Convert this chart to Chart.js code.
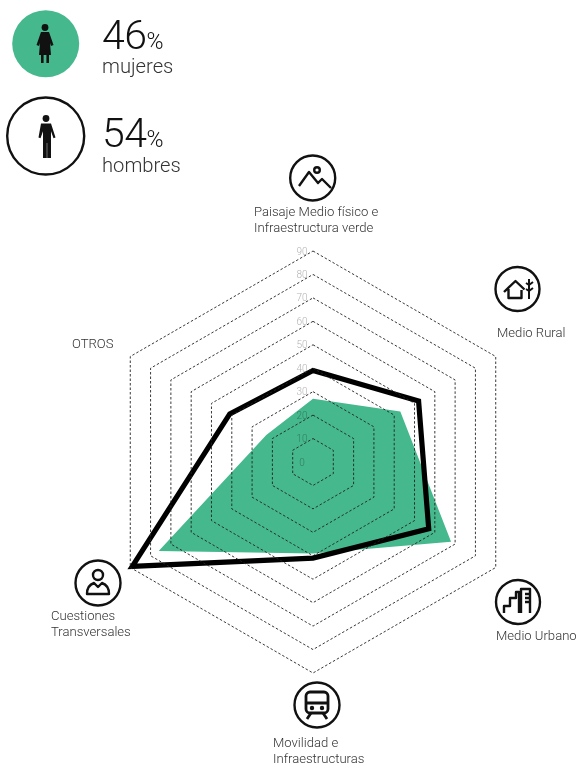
<!DOCTYPE html>
<html>
<head>
<meta charset="utf-8">
<script src="https://cdn.jsdelivr.net/npm/chart.js@4/dist/chart.umd.min.js"></script>
<style>
  html, body { margin: 0; padding: 0; background: #fff; }
  #page { position: relative; width: 581px; height: 763px; overflow: hidden; font-family: Roboto, sans-serif; font-weight: 300; color: #222; }
  #myChart { position: absolute; left: 0; top: 0; }
  .txt { position: absolute; white-space: nowrap; line-height: 16px; font-size: 13.1px; color: #333; }
  .big { position: absolute; left: 102px; font-size: 41px; line-height: 41px; color: #111; letter-spacing: -0.5px; }
  .big span { font-size: 23px; letter-spacing: 0; }
  .sub { position: absolute; left: 102px; font-size: 20.2px; line-height: 24px; color: #333; }
  svg.icon { position: absolute; left: 0; top: 0; }
</style>
</head>
<body>
<div id="page">
  <canvas id="myChart" width="581" height="763"></canvas>

  <div class="big" id="pctMujeres" style="top:15px"></div>
  <div class="sub" id="txtMujeres" style="top:54px"></div>
  <div class="big" id="pctHombres" style="top:113px"></div>
  <div class="sub" id="txtHombres" style="top:153px"></div>

  <div class="txt" id="lab0" style="left:254px;top:204px"></div>
  <div class="txt" id="lab1" style="left:497px;top:325px"></div>
  <div class="txt" id="lab2" style="left:496px;top:628px"></div>
  <div class="txt" id="lab3" style="left:273px;top:735px"></div>
  <div class="txt" id="lab4" style="left:51px;top:608px"></div>
  <div class="txt" id="lab5" style="left:72px;top:336px"></div>

  <svg class="icon" width="581" height="763" fill="none" stroke="#111" stroke-width="2.4" stroke-linejoin="round">
    <!-- mujer -->
    <circle cx="45.7" cy="43.7" r="33.5" fill="#45b88d" stroke="none"/>
    <g fill="#111" stroke="none">
      <circle cx="45" cy="27.5" r="3.4"/>
      <path d="M41 32h8l4.500 13-2.500 1-1-3 1 12h-12l1-12-1 3-2.500-1z"/>
      <rect x="41" y="55" width="2.600" height="8"/><rect x="46.400" y="55" width="2.600" height="8"/>
    </g>
    <!-- hombre -->
    <circle cx="45.7" cy="136" r="38.5"/>
    <g fill="#111" stroke="none">
      <circle cx="46" cy="118.500" r="3.400"/>
      <path d="M41 123.500h10l4.500 14-2 .8-2.500-7v26.700h-3.800v-15h-.4v15h-3.800v-26.700l-2.500 7-2-.8z"/>
    </g>
    <!-- paisaje -->
    <circle cx="312.700" cy="178" r="22.500"/>
    <path d="M299 186l10-14 9 11 4-4 9 9"/><circle cx="317" cy="170" r="2.800"/>
    <!-- rural -->
    <circle cx="517.500" cy="289" r="22"/>
    <path d="M504 292l11.500-11 9 8.500M508.500 289v9h13v-8"/><path d="M529 279v20M529 285l4-3M529 285l-3-2M529 291l4-3M529 291l-3-2" stroke-width="2"/>
    <!-- urbano -->
    <circle cx="518" cy="602" r="22"/>
    <path d="M504 613v-7h6v-8h6v-6h3v21M521 613v-24h9v24M525 594h5M525 598h5M525 602h5"/>
    <!-- cuestiones -->
    <circle cx="98" cy="583" r="22.500"/>
    <circle cx="98" cy="575" r="5"/><path d="M87 594c0-8 4-10 7-11l4 4 4-4c3 1 7 3 7 11z"/>
    <!-- movilidad -->
    <circle cx="317" cy="705" r="22.500"/>
    <rect x="306" y="692" width="22" height="21" rx="4" stroke-width="2.8"/><path d="M306 703h22M311 713l-4 6M323 713l4 6" stroke-width="2.8"/><circle cx="312" cy="708" r="1" fill="#111"/><circle cx="322" cy="708" r="1" fill="#111"/>
  </svg>
</div>

<script>
const categories = ['Paisaje Medio físico e Infraestructura verde', 'Medio Rural', 'Medio Urbano', 'Movilidad e Infraestructuras', 'Cuestiones Transversales', 'OTROS'];
const categoryLines = [['Paisaje Medio físico e', 'Infraestructura verde'], ['Medio Rural'], ['Medio Urbano'], ['Movilidad e', 'Infraestructuras'], ['Cuestiones', 'Transversales'], ['OTROS']];
const hombres = [39, 52, 57, 41, 89, 41];
const mujeres = [27, 43, 68, 39, 76, 23];
const tickLabels = [0, 10, 20, 30, 40, 50, 60, 70, 80, 90];

document.getElementById('pctMujeres').innerHTML = '46<span>%</span>';
document.getElementById('txtMujeres').textContent = 'mujeres';
document.getElementById('pctHombres').innerHTML = '54<span>%</span>';
document.getElementById('txtHombres').textContent = 'hombres';
categoryLines.forEach((lines, i) => {
  document.getElementById('lab' + i).innerHTML = lines.join('<br>');
});

// etiquetas del eje a la izquierda del radio, incluido el 0
const tickText = {
  id: 'tickText',
  afterDraw(chart) {
    const r = chart.scales.r;
    const c = chart.ctx;
    c.save();
    c.font = '300 10px Roboto';
    c.fillStyle = 'rgba(0, 0, 0, 0.33)';
    c.textAlign = 'center';
    c.textBaseline = 'middle';
    tickLabels.forEach(t => {
      c.fillText(t, r.xCenter - 11, r.yCenter - r.getDistanceFromCenterForValue(t) + 1);
    });
    c.restore();
  }
};

const ctx = document.getElementById('myChart').getContext('2d');
const myChart = new Chart(ctx, {
  type: 'radar',
  data: {
    labels: categories,
    datasets: [
      {
        label: 'hombres',
        data: hombres,
        borderColor: '#000',
        borderWidth: 5.2,
        borderJoinStyle: 'miter',
        backgroundColor: 'transparent',
        fill: false,
        pointRadius: 0,
      },
      {
        label: 'mujeres',
        data: mujeres,
        borderWidth: 0,
        backgroundColor: '#45b88d',
        fill: true,
        pointRadius: 0,
      }
    ]
  },
  plugins: [tickText],
  options: {
    responsive: false,
    animation: false,
    layout: {
      padding: { left: 102, right: 57, top: 251, bottom: 90 }
    },
    plugins: {
      legend: { display: false },
      tooltip: { enabled: false }
    },
    scales: {
      r: {
        min: 0,
        max: 90,
        afterBuildTicks(scale) {
          scale.ticks = tickLabels.map(v => ({ value: v }));
        },
        ticks: { display: false },
        pointLabels: { display: false },
        angleLines: { display: false },
        // z 1: la rejilla se dibuja encima del verde
        grid: { color: '#222', lineWidth: 0.9, z: 1 },
        border: { dash: [2.5, 2] }
      }
    }
  }
});
</script>
</body>
</html>
